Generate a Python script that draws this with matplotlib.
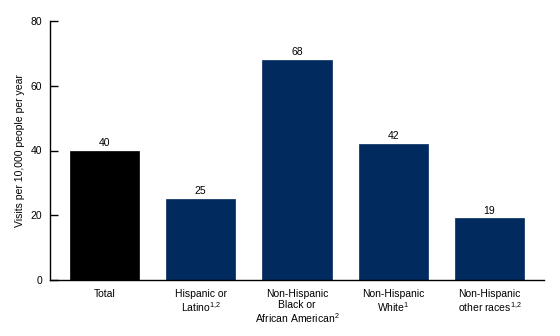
import matplotlib
matplotlib.use("Agg")
import matplotlib.pyplot as plt
from matplotlib import font_manager as fm

# locate the regular (non-narrow) Liberation Sans file
reg = None
for f in fm.findSystemFonts():
    if f.endswith("LiberationSans-Regular.ttf"):
        reg = f
        break
if reg:
    fm.fontManager.addfont(reg)
    fname = fm.FontProperties(fname=reg).get_name()
else:
    fname = 'Liberation Sans'

plt.rcParams['font.family'] = [fname, 'DejaVu Sans']
plt.rcParams['mathtext.fontset'] = 'custom'
plt.rcParams['mathtext.rm'] = fname
plt.rcParams['mathtext.it'] = fname
plt.rcParams['mathtext.bf'] = fname

categories = ["Total",
              "Hispanic or\nLatino$^{\\mathregular{1{,}2}}$",
              "Non-Hispanic\nBlack or\nAfrican American$^{\\mathregular{2}}$",
              "Non-Hispanic\nWhite$^{\\mathregular{1}}$",
              "Non-Hispanic\nother races$^{\\mathregular{1{,}2}}$"]
values = [40, 25, 68, 42, 19]
colors = ["#000000", "#012A5E", "#012A5E", "#012A5E", "#012A5E"]
yticks = [0, 20, 40, 60, 80]

fig = plt.figure(figsize=(5.6, 3.36), dpi=100)
ax = fig.add_axes([50/560, 1-280/336, 494/560, 259/336])
x = list(range(len(values)))
ax.bar(x, values, width=0.72, color=colors, edgecolor=colors, linewidth=0.5)
for xi, v in zip(x, values):
    ax.text(xi, v + 0.8, str(v), ha='center', va='bottom', fontsize=7.5)

ax.set_xlim(-0.566, 4.566)
ax.set_ylim(0, 80)
ax.set_yticks(yticks)
ax.set_xticks(x)
ax.set_xticklabels(categories, fontsize=7.5, linespacing=1.1)
ax.tick_params(axis='x', length=0, pad=6.5)
ax.tick_params(axis='y', direction='in', length=6, width=1, labelsize=7.5, pad=5.5)
ax.spines['top'].set_visible(False)
ax.spines['right'].set_visible(False)
ax.spines['left'].set_linewidth(1)
ax.spines['bottom'].set_linewidth(1)
ax.set_ylabel("Visits per 10,000 people per year", fontsize=7.5, labelpad=4)

fig.savefig("out.png", dpi=100)
